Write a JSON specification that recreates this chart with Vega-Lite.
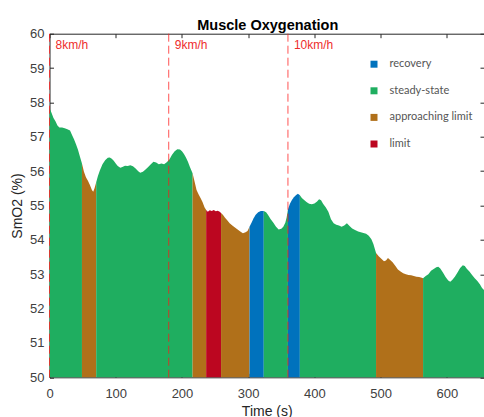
{
  "$schema": "https://vega.github.io/schema/vega-lite/v6.json",
  "autosize": "none",
  "padding": {"left": 49.5, "top": 33.7, "right": 0, "bottom": 39.7},
  "width": 434.5,
  "height": 343.6,
  "title": {
    "text": "Muscle Oxygenation",
    "fontSize": 14.5,
    "fontWeight": "bold",
    "font": "Liberation Sans",
    "color": "#000000",
    "anchor": "middle",
    "baseline": "alphabetic",
    "offset": 7,
    "dx": 1,
    "dy": 24
  },
  "config": {
    "font": "Liberation Sans",
    "view": {"stroke": null},
    "axis": {
      "grid": false,
      "domainColor": "#262626",
      "tickColor": "#262626",
      "labelColor": "#404040",
      "labelFontSize": 13,
      "labelFlush": false,
      "titleColor": "#262626",
      "titleFontSize": 14,
      "titleFontWeight": "normal",
      "tickSize": -4,
      "zindex": 0
    }
  },
  "datasets": {
    "smo2": [
      {"t": 0, "v": 57.83, "phase": "steady-state", "seg": 1},
      {"t": 3, "v": 57.7, "phase": "steady-state", "seg": 1},
      {"t": 6, "v": 57.55, "phase": "steady-state", "seg": 1},
      {"t": 9, "v": 57.45, "phase": "steady-state", "seg": 1},
      {"t": 12, "v": 57.33, "phase": "steady-state", "seg": 1},
      {"t": 15, "v": 57.27, "phase": "steady-state", "seg": 1},
      {"t": 19, "v": 57.27, "phase": "steady-state", "seg": 1},
      {"t": 23, "v": 57.25, "phase": "steady-state", "seg": 1},
      {"t": 27, "v": 57.22, "phase": "steady-state", "seg": 1},
      {"t": 31, "v": 57.18, "phase": "steady-state", "seg": 1},
      {"t": 34, "v": 57.05, "phase": "steady-state", "seg": 1},
      {"t": 37, "v": 56.93, "phase": "steady-state", "seg": 1},
      {"t": 40, "v": 56.78, "phase": "steady-state", "seg": 1},
      {"t": 43, "v": 56.62, "phase": "steady-state", "seg": 1},
      {"t": 46, "v": 56.42, "phase": "steady-state", "seg": 1},
      {"t": 49, "v": 56.22, "phase": "steady-state", "seg": 1},
      {"t": 49, "v": 56.22, "phase": "approaching limit", "seg": 2},
      {"t": 52, "v": 55.98, "phase": "approaching limit", "seg": 2},
      {"t": 55, "v": 55.82, "phase": "approaching limit", "seg": 2},
      {"t": 58, "v": 55.72, "phase": "approaching limit", "seg": 2},
      {"t": 61, "v": 55.6, "phase": "approaching limit", "seg": 2},
      {"t": 64, "v": 55.45, "phase": "approaching limit", "seg": 2},
      {"t": 66, "v": 55.4, "phase": "approaching limit", "seg": 2},
      {"t": 68, "v": 55.5, "phase": "approaching limit", "seg": 2},
      {"t": 70.5, "v": 55.68, "phase": "approaching limit", "seg": 2},
      {"t": 70.5, "v": 55.68, "phase": "steady-state", "seg": 3},
      {"t": 73, "v": 55.85, "phase": "steady-state", "seg": 3},
      {"t": 76, "v": 56.02, "phase": "steady-state", "seg": 3},
      {"t": 80, "v": 56.2, "phase": "steady-state", "seg": 3},
      {"t": 84, "v": 56.32, "phase": "steady-state", "seg": 3},
      {"t": 88, "v": 56.39, "phase": "steady-state", "seg": 3},
      {"t": 91, "v": 56.4, "phase": "steady-state", "seg": 3},
      {"t": 94, "v": 56.36, "phase": "steady-state", "seg": 3},
      {"t": 97, "v": 56.3, "phase": "steady-state", "seg": 3},
      {"t": 100, "v": 56.22, "phase": "steady-state", "seg": 3},
      {"t": 103, "v": 56.15, "phase": "steady-state", "seg": 3},
      {"t": 107, "v": 56.1, "phase": "steady-state", "seg": 3},
      {"t": 110, "v": 56.12, "phase": "steady-state", "seg": 3},
      {"t": 114, "v": 56.16, "phase": "steady-state", "seg": 3},
      {"t": 118, "v": 56.15, "phase": "steady-state", "seg": 3},
      {"t": 122, "v": 56.17, "phase": "steady-state", "seg": 3},
      {"t": 126, "v": 56.14, "phase": "steady-state", "seg": 3},
      {"t": 130, "v": 56.08, "phase": "steady-state", "seg": 3},
      {"t": 134, "v": 56.0, "phase": "steady-state", "seg": 3},
      {"t": 137, "v": 55.95, "phase": "steady-state", "seg": 3},
      {"t": 141, "v": 55.98, "phase": "steady-state", "seg": 3},
      {"t": 145, "v": 56.05, "phase": "steady-state", "seg": 3},
      {"t": 149, "v": 56.12, "phase": "steady-state", "seg": 3},
      {"t": 153, "v": 56.2, "phase": "steady-state", "seg": 3},
      {"t": 157, "v": 56.27, "phase": "steady-state", "seg": 3},
      {"t": 161, "v": 56.25, "phase": "steady-state", "seg": 3},
      {"t": 165, "v": 56.2, "phase": "steady-state", "seg": 3},
      {"t": 169, "v": 56.22, "phase": "steady-state", "seg": 3},
      {"t": 173, "v": 56.2, "phase": "steady-state", "seg": 3},
      {"t": 177, "v": 56.26, "phase": "steady-state", "seg": 3},
      {"t": 181, "v": 56.34, "phase": "steady-state", "seg": 3},
      {"t": 185, "v": 56.48, "phase": "steady-state", "seg": 3},
      {"t": 189, "v": 56.58, "phase": "steady-state", "seg": 3},
      {"t": 193, "v": 56.64, "phase": "steady-state", "seg": 3},
      {"t": 197, "v": 56.63, "phase": "steady-state", "seg": 3},
      {"t": 200, "v": 56.58, "phase": "steady-state", "seg": 3},
      {"t": 203, "v": 56.5, "phase": "steady-state", "seg": 3},
      {"t": 206, "v": 56.4, "phase": "steady-state", "seg": 3},
      {"t": 209, "v": 56.27, "phase": "steady-state", "seg": 3},
      {"t": 212, "v": 56.12, "phase": "steady-state", "seg": 3},
      {"t": 216, "v": 55.94, "phase": "steady-state", "seg": 3},
      {"t": 216, "v": 55.94, "phase": "approaching limit", "seg": 4},
      {"t": 219, "v": 55.7, "phase": "approaching limit", "seg": 4},
      {"t": 222, "v": 55.45, "phase": "approaching limit", "seg": 4},
      {"t": 225, "v": 55.33, "phase": "approaching limit", "seg": 4},
      {"t": 228, "v": 55.22, "phase": "approaching limit", "seg": 4},
      {"t": 231, "v": 55.1, "phase": "approaching limit", "seg": 4},
      {"t": 234, "v": 54.95, "phase": "approaching limit", "seg": 4},
      {"t": 236.5, "v": 54.87, "phase": "approaching limit", "seg": 4},
      {"t": 236.5, "v": 54.87, "phase": "limit", "seg": 5},
      {"t": 239, "v": 54.82, "phase": "limit", "seg": 5},
      {"t": 242, "v": 54.86, "phase": "limit", "seg": 5},
      {"t": 245, "v": 54.84, "phase": "limit", "seg": 5},
      {"t": 248, "v": 54.87, "phase": "limit", "seg": 5},
      {"t": 251, "v": 54.83, "phase": "limit", "seg": 5},
      {"t": 254, "v": 54.85, "phase": "limit", "seg": 5},
      {"t": 257, "v": 54.82, "phase": "limit", "seg": 5},
      {"t": 259, "v": 54.78, "phase": "limit", "seg": 5},
      {"t": 259, "v": 54.78, "phase": "approaching limit", "seg": 6},
      {"t": 262, "v": 54.72, "phase": "approaching limit", "seg": 6},
      {"t": 265, "v": 54.64, "phase": "approaching limit", "seg": 6},
      {"t": 268, "v": 54.58, "phase": "approaching limit", "seg": 6},
      {"t": 272, "v": 54.48, "phase": "approaching limit", "seg": 6},
      {"t": 276, "v": 54.42, "phase": "approaching limit", "seg": 6},
      {"t": 280, "v": 54.36, "phase": "approaching limit", "seg": 6},
      {"t": 284, "v": 54.3, "phase": "approaching limit", "seg": 6},
      {"t": 288, "v": 54.24, "phase": "approaching limit", "seg": 6},
      {"t": 292, "v": 54.19, "phase": "approaching limit", "seg": 6},
      {"t": 296, "v": 54.22, "phase": "approaching limit", "seg": 6},
      {"t": 299, "v": 54.26, "phase": "approaching limit", "seg": 6},
      {"t": 302, "v": 54.38, "phase": "approaching limit", "seg": 6},
      {"t": 302, "v": 54.38, "phase": "recovery", "seg": 7},
      {"t": 305, "v": 54.5, "phase": "recovery", "seg": 7},
      {"t": 308, "v": 54.62, "phase": "recovery", "seg": 7},
      {"t": 311, "v": 54.72, "phase": "recovery", "seg": 7},
      {"t": 315, "v": 54.8, "phase": "recovery", "seg": 7},
      {"t": 319, "v": 54.84, "phase": "recovery", "seg": 7},
      {"t": 323.5, "v": 54.84, "phase": "recovery", "seg": 7},
      {"t": 323.5, "v": 54.84, "phase": "steady-state", "seg": 8},
      {"t": 327, "v": 54.8, "phase": "steady-state", "seg": 8},
      {"t": 330, "v": 54.72, "phase": "steady-state", "seg": 8},
      {"t": 334, "v": 54.6, "phase": "steady-state", "seg": 8},
      {"t": 338, "v": 54.5, "phase": "steady-state", "seg": 8},
      {"t": 342, "v": 54.38, "phase": "steady-state", "seg": 8},
      {"t": 346, "v": 54.3, "phase": "steady-state", "seg": 8},
      {"t": 350, "v": 54.32, "phase": "steady-state", "seg": 8},
      {"t": 353, "v": 54.38, "phase": "steady-state", "seg": 8},
      {"t": 356, "v": 54.5, "phase": "steady-state", "seg": 8},
      {"t": 358, "v": 54.65, "phase": "steady-state", "seg": 8},
      {"t": 360, "v": 54.88, "phase": "steady-state", "seg": 8},
      {"t": 360, "v": 54.88, "phase": "recovery", "seg": 9},
      {"t": 363, "v": 55.05, "phase": "recovery", "seg": 9},
      {"t": 366, "v": 55.16, "phase": "recovery", "seg": 9},
      {"t": 369, "v": 55.24, "phase": "recovery", "seg": 9},
      {"t": 372, "v": 55.3, "phase": "recovery", "seg": 9},
      {"t": 375, "v": 55.34, "phase": "recovery", "seg": 9},
      {"t": 378, "v": 55.3, "phase": "recovery", "seg": 9},
      {"t": 378, "v": 55.3, "phase": "steady-state", "seg": 10},
      {"t": 381, "v": 55.22, "phase": "steady-state", "seg": 10},
      {"t": 384, "v": 55.17, "phase": "steady-state", "seg": 10},
      {"t": 388, "v": 55.1, "phase": "steady-state", "seg": 10},
      {"t": 392, "v": 55.05, "phase": "steady-state", "seg": 10},
      {"t": 396, "v": 55.04, "phase": "steady-state", "seg": 10},
      {"t": 400, "v": 55.06, "phase": "steady-state", "seg": 10},
      {"t": 404, "v": 55.12, "phase": "steady-state", "seg": 10},
      {"t": 407, "v": 55.18, "phase": "steady-state", "seg": 10},
      {"t": 410, "v": 55.15, "phase": "steady-state", "seg": 10},
      {"t": 413, "v": 55.05, "phase": "steady-state", "seg": 10},
      {"t": 417, "v": 54.95, "phase": "steady-state", "seg": 10},
      {"t": 421, "v": 54.82, "phase": "steady-state", "seg": 10},
      {"t": 425, "v": 54.6, "phase": "steady-state", "seg": 10},
      {"t": 429, "v": 54.48, "phase": "steady-state", "seg": 10},
      {"t": 433, "v": 54.44, "phase": "steady-state", "seg": 10},
      {"t": 437, "v": 54.42, "phase": "steady-state", "seg": 10},
      {"t": 441, "v": 54.38, "phase": "steady-state", "seg": 10},
      {"t": 445, "v": 54.42, "phase": "steady-state", "seg": 10},
      {"t": 449, "v": 54.48, "phase": "steady-state", "seg": 10},
      {"t": 453, "v": 54.4, "phase": "steady-state", "seg": 10},
      {"t": 457, "v": 54.33, "phase": "steady-state", "seg": 10},
      {"t": 462, "v": 54.28, "phase": "steady-state", "seg": 10},
      {"t": 466, "v": 54.24, "phase": "steady-state", "seg": 10},
      {"t": 470, "v": 54.22, "phase": "steady-state", "seg": 10},
      {"t": 474, "v": 54.2, "phase": "steady-state", "seg": 10},
      {"t": 478, "v": 54.18, "phase": "steady-state", "seg": 10},
      {"t": 482, "v": 54.12, "phase": "steady-state", "seg": 10},
      {"t": 486, "v": 54.02, "phase": "steady-state", "seg": 10},
      {"t": 489, "v": 53.88, "phase": "steady-state", "seg": 10},
      {"t": 493, "v": 53.62, "phase": "steady-state", "seg": 10},
      {"t": 493, "v": 53.62, "phase": "approaching limit", "seg": 11},
      {"t": 497, "v": 53.52, "phase": "approaching limit", "seg": 11},
      {"t": 501, "v": 53.45, "phase": "approaching limit", "seg": 11},
      {"t": 505, "v": 53.38, "phase": "approaching limit", "seg": 11},
      {"t": 508, "v": 53.4, "phase": "approaching limit", "seg": 11},
      {"t": 511, "v": 53.47, "phase": "approaching limit", "seg": 11},
      {"t": 514, "v": 53.42, "phase": "approaching limit", "seg": 11},
      {"t": 518, "v": 53.35, "phase": "approaching limit", "seg": 11},
      {"t": 522, "v": 53.25, "phase": "approaching limit", "seg": 11},
      {"t": 526, "v": 53.14, "phase": "approaching limit", "seg": 11},
      {"t": 530, "v": 53.08, "phase": "approaching limit", "seg": 11},
      {"t": 534, "v": 53.03, "phase": "approaching limit", "seg": 11},
      {"t": 538, "v": 53.0, "phase": "approaching limit", "seg": 11},
      {"t": 542, "v": 52.98, "phase": "approaching limit", "seg": 11},
      {"t": 546, "v": 52.97, "phase": "approaching limit", "seg": 11},
      {"t": 550, "v": 52.95, "phase": "approaching limit", "seg": 11},
      {"t": 554, "v": 52.93, "phase": "approaching limit", "seg": 11},
      {"t": 558, "v": 52.92, "phase": "approaching limit", "seg": 11},
      {"t": 562, "v": 52.9, "phase": "approaching limit", "seg": 11},
      {"t": 564, "v": 52.88, "phase": "approaching limit", "seg": 11},
      {"t": 564, "v": 52.88, "phase": "steady-state", "seg": 12},
      {"t": 568, "v": 52.95, "phase": "steady-state", "seg": 12},
      {"t": 572, "v": 53.0, "phase": "steady-state", "seg": 12},
      {"t": 576, "v": 53.1, "phase": "steady-state", "seg": 12},
      {"t": 580, "v": 53.15, "phase": "steady-state", "seg": 12},
      {"t": 584, "v": 53.2, "phase": "steady-state", "seg": 12},
      {"t": 587, "v": 53.22, "phase": "steady-state", "seg": 12},
      {"t": 590, "v": 53.17, "phase": "steady-state", "seg": 12},
      {"t": 594, "v": 53.05, "phase": "steady-state", "seg": 12},
      {"t": 598, "v": 52.92, "phase": "steady-state", "seg": 12},
      {"t": 602, "v": 52.82, "phase": "steady-state", "seg": 12},
      {"t": 605, "v": 52.78, "phase": "steady-state", "seg": 12},
      {"t": 608, "v": 52.83, "phase": "steady-state", "seg": 12},
      {"t": 612, "v": 52.93, "phase": "steady-state", "seg": 12},
      {"t": 616, "v": 53.05, "phase": "steady-state", "seg": 12},
      {"t": 620, "v": 53.18, "phase": "steady-state", "seg": 12},
      {"t": 624, "v": 53.26, "phase": "steady-state", "seg": 12},
      {"t": 627, "v": 53.24, "phase": "steady-state", "seg": 12},
      {"t": 630, "v": 53.16, "phase": "steady-state", "seg": 12},
      {"t": 634, "v": 53.08, "phase": "steady-state", "seg": 12},
      {"t": 638, "v": 52.98, "phase": "steady-state", "seg": 12},
      {"t": 642, "v": 52.88, "phase": "steady-state", "seg": 12},
      {"t": 646, "v": 52.8, "phase": "steady-state", "seg": 12},
      {"t": 650, "v": 52.7, "phase": "steady-state", "seg": 12},
      {"t": 653, "v": 52.6, "phase": "steady-state", "seg": 12},
      {"t": 656, "v": 52.54, "phase": "steady-state", "seg": 12}
    ],
    "speeds": [
      {"t": 0, "speed": "8km/h"},
      {"t": 180, "speed": "9km/h"},
      {"t": 360, "speed": "10km/h"}
    ]
  },
  "layer": [
    {
      "data": {"name": "smo2"},
      "mark": {"type": "area", "interpolate": "linear", "orient": "vertical"},
      "encoding": {
        "x": {
          "field": "t", "type": "quantitative",
          "scale": {"domain": [0, 656], "nice": false, "zero": false},
          "axis": {"orient": "bottom", "values": [0, 100, 200, 300, 400, 500, 600], "title": "Time (s)", "labelPadding": 14.5, "titlePadding": 4}
        },
        "y": {
          "field": "v", "type": "quantitative",
          "scale": {"domain": [50, 60], "nice": false, "zero": false},
          "axis": {"orient": "left", "values": [50, 51, 52, 53, 54, 55, 56, 57, 58, 59, 60], "title": "SmO2 (%)", "labelPadding": 9.5, "titlePadding": 5}
        },
        "y2": {"datum": 50},
        "detail": {"field": "seg", "type": "nominal"},
        "color": {
          "field": "phase", "type": "nominal",
          "scale": {
            "domain": ["recovery", "steady-state", "approaching limit", "limit"],
            "range": ["#0072BD", "#1FAE60", "#B0701A", "#BC0620"]
          },
          "legend": {
            "orient": "none",
            "legendX": 319,
            "legendY": 25,
            "title": null,
            "symbolType": "square",
            "symbolSize": 49,
            "symbolStrokeWidth": 0,
            "symbolOpacity": 1,
            "labelFont": "Lato",
            "labelFontSize": 11,
            "labelColor": "#555555",
            "labelOffset": 10,
            "rowPadding": 14.6,
            "padding": 0
          }
        }
      }
    },
    {
      "data": {"name": "speeds"},
      "mark": {"type": "rule", "color": "#FF1A1A", "strokeWidth": 1, "strokeDash": [8, 4], "opacity": 0.75},
      "encoding": {
        "x": {
          "field": "t", "type": "quantitative",
          "axis": {"orient": "top", "labels": false, "title": null, "values": [0, 100, 200, 300, 400, 500, 600]}
        }
      }
    },
    {
      "data": {"name": "speeds"},
      "mark": {"type": "text", "align": "left", "baseline": "middle", "dx": 6, "fontSize": 12, "color": "#EE2C2C"},
      "encoding": {
        "x": {"field": "t", "type": "quantitative", "axis": null},
        "y": {
          "datum": 59.67,
          "axis": {"orient": "right", "labels": false, "title": null, "values": [50, 51, 52, 53, 54, 55, 56, 57, 58, 59, 60]}
        },
        "text": {"field": "speed"}
      }
    }
  ],
  "resolve": {"axis": {"x": "independent", "y": "independent"}}
}
